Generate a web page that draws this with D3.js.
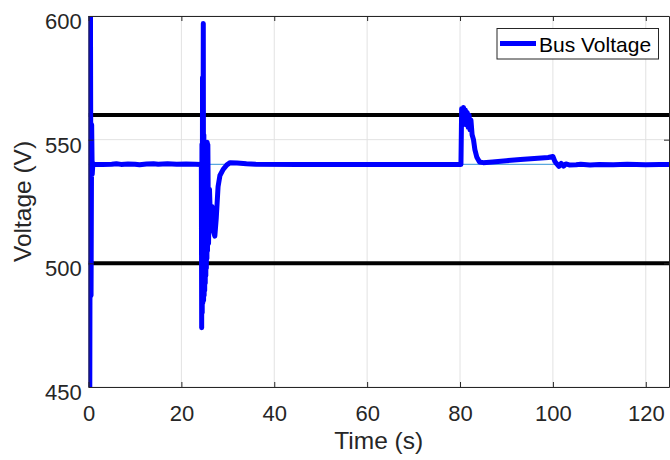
<!DOCTYPE html>
<html><head><meta charset="utf-8">
<script src="https://cdn.jsdelivr.net/npm/d3@7"></script>
<style>body{margin:0;background:#fff}svg{display:block}</style>
</head><body>
<svg id="c" width="670" height="460"></svg>
<script>
const xTicks = [0, 20, 40, 60, 80, 100, 120];
const yTicks = [450, 500, 550, 600];
const limitLines = [500, 560];
const refVoltage = 540;
const seriesName = "Bus Voltage";
const xLabel = "Time (s)";
const yLabel = "Voltage (V)";

const time = [
  0.00, 0.12, 0.28, 0.42, 0.55, 0.68, 0.80, 0.95, 1.2, 3, 5, 6, 7, 8.5, 10, 11, 12.5, 14, 15, 17, 19, 21, 23, 24.2,
  24.30, 24.37, 24.43, 24.49, 24.55, 24.61, 24.67, 24.72, 24.78, 24.84, 24.90, 24.96, 25.02, 25.08, 25.14,
  25.20, 25.26, 25.32, 25.38, 25.44, 25.50, 25.56, 25.62, 25.70,
  25.85, 26.05, 26.3, 26.6, 26.9, 27.2, 27.5, 27.9, 28.3, 29.0, 29.8, 30.5, 32, 34, 36,
  45, 55, 65, 75, 80.2,
  80.35, 80.55, 80.75, 80.95, 81.15, 81.35, 81.55, 81.75, 81.95, 82.15, 82.35, 82.6, 82.9, 83.2, 83.6, 84.2,
  85, 87, 90, 93, 96, 99, 100, 100.4, 100.8, 101.3, 101.8, 102.3, 102.8, 103.5,
  105, 106, 108, 110, 113, 116, 120, 123, 125
];
const voltage = [
  445, 610, 448, 605, 487, 556, 536, 540.5, 540, 540, 540.1, 540.3, 540, 540.2, 540.1, 539.9, 540.2, 540.3, 540.1, 540.3, 540.1, 540.2, 540.1, 540,
  540, 474, 548, 480, 575, 484, 550, 597, 485, 552, 487, 548, 489, 546, 492,
  547, 495, 548, 498, 545, 502, 549, 505, 548,
  508, 530, 515, 523, 513, 511, 518, 531, 535.5, 538, 539.8, 540.7, 540.6, 540.3, 540.1,
  540, 540, 540, 540, 540,
  562.5, 556, 563, 557, 562, 556, 561, 555, 560, 554, 558, 552, 550, 546, 543, 541,
  540.7, 541, 541.5, 542, 542.4, 542.8, 543.2, 541.3, 540.3, 539.2, 540.4, 539.3, 540.2, 539.8,
  539.9, 540.1, 539.8, 540, 539.9, 540.1, 539.9, 540, 540
];

const L = 88.5, R = 669, T = 16, B = 387;
const axisColor = "#262626";
const font = "'Liberation Sans', Arial, Helvetica, sans-serif";

const x = d3.scaleLinear().domain([0, 125]).range([L, R]);
const y = d3.scaleLinear().domain([450, 600]).range([B, T]);

const svg = d3.select("#c");
svg.append("defs").append("clipPath").attr("id", "clip")
  .append("rect").attr("x", L).attr("y", T).attr("width", R - L).attr("height", B - T);

// grid
const grid = svg.append("g").attr("stroke", "#e2e2e2").attr("stroke-width", 1);
grid.selectAll("line.gx").data(xTicks).join("line").attr("class", "gx")
  .attr("x1", d => x(d)).attr("x2", d => x(d)).attr("y1", T).attr("y2", B);
grid.selectAll("line.gy").data(yTicks).join("line").attr("class", "gy")
  .attr("x1", L).attr("x2", R).attr("y1", d => y(d)).attr("y2", d => y(d));

const plot = svg.append("g").attr("clip-path", "url(#clip)");

// limit lines
plot.selectAll("line.lim").data(limitLines).join("line").attr("class", "lim")
  .attr("x1", L).attr("x2", R).attr("y1", d => y(d)).attr("y2", d => y(d))
  .attr("stroke", "#000").attr("stroke-width", 4);

// reference line
plot.append("line")
  .attr("x1", x(0)).attr("x2", x(125)).attr("y1", y(refVoltage)).attr("y2", y(refVoltage))
  .attr("stroke", "#5aa8dd").attr("stroke-width", 1.2);

// bus voltage
const pts = time.map((t, i) => [t, voltage[i]]);
const line = d3.line().x(d => x(d[0])).y(d => y(d[1]));
plot.append("path").attr("d", line(pts))
  .attr("fill", "none").attr("stroke", "#0000ff").attr("stroke-width", 5)
  .attr("stroke-linejoin", "round").attr("stroke-linecap", "round");

// axes
function styleAxis(g) {
  g.select(".domain").attr("stroke", axisColor).attr("stroke-width", 1);
  g.selectAll(".tick line").attr("stroke", axisColor).attr("stroke-width", 1);
  g.selectAll("text").attr("fill", axisColor).attr("font-family", font).attr("font-size", 22);
}
svg.append("g").attr("transform", `translate(0,${B})`)
  .call(d3.axisBottom(x).tickValues(xTicks).tickSizeInner(-5).tickSizeOuter(0).tickPadding(18))
  .call(styleAxis);
svg.append("g").attr("transform", `translate(0,${T})`)
  .call(d3.axisTop(x).tickValues(xTicks).tickSizeInner(-5).tickSizeOuter(0).tickFormat(""))
  .call(styleAxis);
const yAx = svg.append("g").attr("transform", `translate(${L},0)`)
  .call(d3.axisLeft(y).tickValues(yTicks).tickSizeInner(-5).tickSizeOuter(0).tickPadding(6.8))
  .call(styleAxis);
yAx.selectAll("text").attr("dy", 12.5);
svg.append("g").attr("transform", `translate(${R},0)`)
  .call(d3.axisRight(y).tickValues(yTicks).tickSizeInner(-5).tickSizeOuter(0).tickFormat(""))
  .call(styleAxis);

// axis labels
svg.append("text").attr("x", (L + R) / 2).attr("y", 449).attr("text-anchor", "middle")
  .attr("font-family", font).attr("font-size", 24.5).attr("fill", axisColor).text(xLabel);
svg.append("text").attr("transform", `translate(31,${(T + B) / 2}) rotate(-90)`)
  .attr("text-anchor", "middle").attr("font-family", font).attr("font-size", 24.5)
  .attr("fill", axisColor).text(yLabel);

// legend
const lg = svg.append("g");
lg.append("rect").attr("x", 497).attr("y", 28.5).attr("width", 161.5).attr("height", 30.5)
  .attr("fill", "#fff").attr("stroke", axisColor).attr("stroke-width", 1);
lg.append("line").attr("x1", 500).attr("x2", 536).attr("y1", 43.5).attr("y2", 43.5)
  .attr("stroke", "#0000ff").attr("stroke-width", 5);
lg.append("text").attr("x", 539).attr("y", 51.5).attr("font-family", font).attr("font-size", 21)
  .attr("fill", "#000").text(seriesName);
</script>
</body></html>
